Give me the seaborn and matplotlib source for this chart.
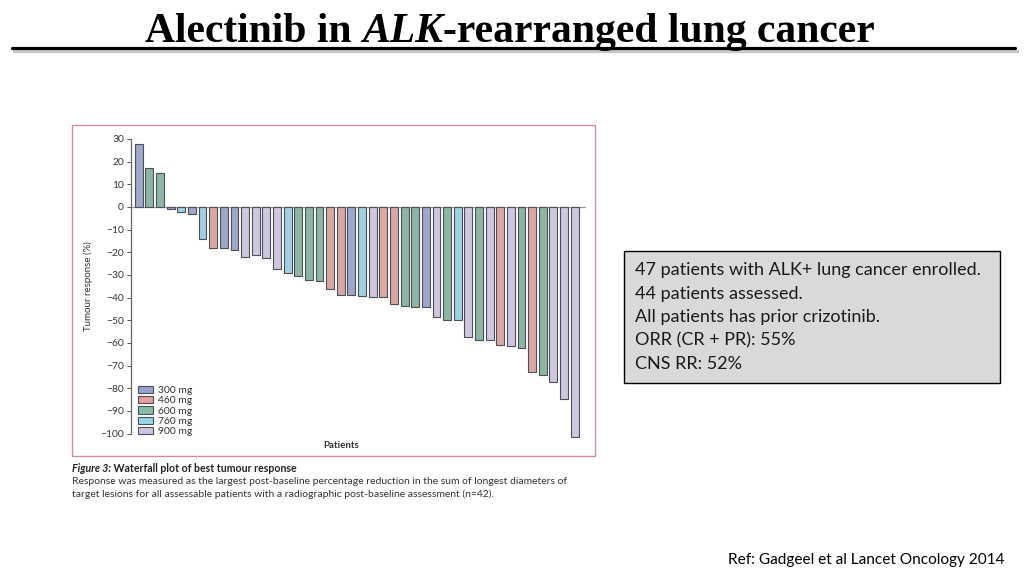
import matplotlib
matplotlib.use("Agg")
import matplotlib.pyplot as plt
import seaborn as sns
import pandas as pd
from matplotlib.patches import Rectangle, Patch
from matplotlib.lines import Line2D

# ---------------- data ----------------
doses = ["300 mg", "460 mg", "600 mg", "760 mg", "900 mg"]
dose_colors = ["#96a3cf", "#e3a09b", "#86bda2", "#97d6ea", "#cdc4e2"]

patient_dose = [
    "300 mg", "600 mg", "600 mg", "300 mg", "760 mg", "300 mg", "760 mg", "460 mg",
    "300 mg", "300 mg", "900 mg", "900 mg", "900 mg", "900 mg", "760 mg", "600 mg",
    "600 mg", "600 mg", "460 mg", "460 mg", "300 mg", "760 mg", "900 mg", "460 mg",
    "460 mg", "600 mg", "600 mg", "300 mg", "900 mg", "600 mg", "760 mg", "900 mg",
    "600 mg", "900 mg", "460 mg", "900 mg", "600 mg", "460 mg", "600 mg", "900 mg",
    "900 mg", "900 mg",
]
response = [
    28.0, 17.3, 15.1, -0.9, -2.2, -2.9, -14.2, -18.0,
    -18.0, -19.1, -22.1, -21.4, -22.3, -27.3, -29.0, -30.4,
    -32.1, -32.7, -36.2, -39.0, -38.9, -39.1, -39.7, -39.7,
    -43.0, -43.7, -44.3, -44.3, -48.5, -49.7, -49.7, -57.2,
    -58.7, -58.5, -61.0, -61.4, -62.0, -72.6, -74.3, -77.0,
    -84.9, -101.3,
]
yticks = list(range(-100, 31, 10))

title_parts = ["Alectinib in ", "ALK", "-rearranged lung cancer"]
box_lines = [
    "47 patients with ALK+ lung cancer enrolled.",
    "44 patients assessed.",
    "All patients has prior crizotinib.",
    "ORR (CR + PR): 55%",
    "CNS RR: 52%",
]
caption_head = ["Figure 3:", " Waterfall plot of best tumour response"]
caption_lines = [
    "Response was measured as the largest post-baseline percentage reduction in the sum of longest diameters of",
    "target lesions for all assessable patients with a radiographic post-baseline assessment (n=42).",
]
ref_text = "Ref: Gadgeel et al Lancet Oncology 2014"

# ---------------- figure ----------------
W, H = 1024, 576
fig = plt.figure(figsize=(W / 100, H / 100), dpi=100)
fig.patch.set_facecolor("white")

def fx(px):
    return px / W

def fy(py):
    return 1 - py / H

sns.set_style("white")
plt.rcParams["font.family"] = ["Lato", "DejaVu Sans"]

# pink frame around the figure panel
fig.patches.append(Rectangle((fx(72), fy(456)), fx(595) - fx(72), fy(125) - fy(456),
                             transform=fig.transFigure, fill=False,
                             edgecolor="#d48aa0", linewidth=1.0, zorder=0))

ax = fig.add_axes([fx(131), fy(438.2), fx(585) - fx(131), fy(136.7) - fy(438.2)])
df = pd.DataFrame({"patient": list(range(len(response))), "response": response,
                   "dose": patient_dose})
sns.barplot(data=df, x="patient", y="response", hue="dose", hue_order=doses,
            palette=dict(zip(doses, dose_colors)), dodge=False, width=0.74,
            edgecolor="#4d4d5c", linewidth=0.8, ax=ax, legend=False, zorder=2)
ax.set_xlim(-0.73, len(response) - 0.03)
ax.set_ylim(-102, 31)
ax.set_yticks(yticks)
ax.set_yticklabels([f"{t}" if t >= 0 else f"\u2212{abs(t)}" for t in yticks],
                   fontsize=7.4, color="#333333")
ax.set_xticks([])
ax.set_xlabel("")
ax.set_ylabel("")
ax.tick_params(axis="y", direction="out", length=3, width=0.7, color="#555555", pad=2, left=True)
for s in ["top", "right"]:
    ax.spines[s].set_visible(False)
ax.spines["left"].set_bounds(-100, 30)
ax.spines["left"].set_color("#666666")
ax.spines["left"].set_linewidth(0.9)
ax.spines["bottom"].set_position(("data", 0))
ax.spines["bottom"].set_color("#999999")
ax.spines["bottom"].set_linewidth(0.9)
ax.spines["bottom"].set_zorder(1)
ax.patch.set_alpha(0)

fig.text(fx(88), fy(286), "Tumour response (%)", rotation=90, ha="center", va="center",
         fontsize=7, color="#333333")
fig.text(fx(341), fy(445), "Patients", ha="center", va="center", fontsize=7,
         color="#333333", fontweight="bold")

handles = [Patch(facecolor=c, edgecolor="#4d4d5c", linewidth=0.8, label=d)
           for d, c in zip(doses, dose_colors)]
leg = fig.legend(handles=handles, loc="lower left",
                 bbox_to_anchor=(fx(136), fy(438)), frameon=False, fontsize=7.4,
                 handlelength=1.5, handleheight=0.7, handletextpad=0.4,
                 labelspacing=0.1, borderpad=0.2, borderaxespad=0)
for t in leg.get_texts():
    t.set_color("#333333")

# caption
renderer = fig.canvas.get_renderer()
x = fx(72)
t1 = fig.text(x, fy(468), caption_head[0], fontsize=7.6, fontstyle="italic",
              fontweight="bold", va="center", color="#222222")
bb = t1.get_window_extent(renderer)
fig.text(x + bb.width / W, fy(468), caption_head[1], fontsize=7.6, fontweight="bold",
         va="center", color="#222222")
for i, line in enumerate(caption_lines):
    fig.text(fx(72), fy(481.5 + 13 * i), line, fontsize=7.45, va="center", color="#333333")

# title
tfs = 30
tstyles = ["normal", "italic", "normal"]
pieces = []
for part, st in zip(title_parts, tstyles):
    pieces.append(fig.text(0, fy(32), part, fontsize=tfs, fontweight="bold",
                           fontstyle=st, family="Liberation Serif", va="center",
                           ha="left", color="black"))
widths = [p.get_window_extent(renderer).width for p in pieces]
start = 510 - sum(widths) / 2
for p, w in zip(pieces, widths):
    p.set_x(fx(start))
    start += w

fig.add_artist(Line2D([fx(14), fx(1017)], [fy(51), fy(51)], transform=fig.transFigure,
                      color="#c8c8c8", linewidth=2.5))
fig.add_artist(Line2D([fx(12), fx(1015)], [fy(48), fy(48)], transform=fig.transFigure,
                      color="black", linewidth=2.3))

# info box
fig.patches.append(Rectangle((fx(624), fy(383)), fx(1000) - fx(624), fy(251) - fy(383),
                             transform=fig.transFigure, facecolor="#d9d9d9",
                             edgecolor="black", linewidth=1.0))
for i, line in enumerate(box_lines):
    fig.text(fx(635), fy(270 + 23.5 * i), line, fontsize=13, va="center", ha="left",
             color="#1a1a1a")

fig.text(fx(728), fy(560), ref_text, fontsize=11.1, va="center", ha="left", color="black")

fig.savefig("out.png", dpi=100)
